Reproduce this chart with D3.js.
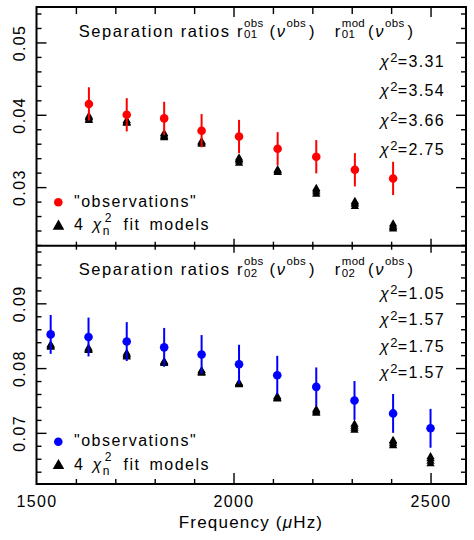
<!DOCTYPE html>
<html>
<head>
<meta charset="utf-8">
<script src="https://cdn.jsdelivr.net/npm/d3@7"></script>
<style>
  body { margin: 0; background: #fff; }
  text { font-family: "Liberation Sans", Arial, sans-serif; fill: #000; }
</style>
</head>
<body>
<div id="chart"></div>
<script>
// frequencies (muHz) of the ratios
const freq01 = [1633, 1729, 1824, 1919, 2014, 2112, 2210, 2308, 2405];
const freq02 = [1536, 1632, 1729, 1824, 1919, 2014, 2111, 2210, 2307, 2405, 2500];

// observed ratios and their errors
const r01Obs = [0.0415, 0.0400, 0.0395, 0.0378, 0.0370, 0.0353, 0.0342, 0.0324, 0.0312];
const r01Err = [0.0023, 0.0023, 0.0023, 0.0023, 0.0023, 0.0023, 0.0023, 0.0023, 0.0023];
const r02Obs = [0.0852, 0.0848, 0.0841, 0.0832, 0.0821, 0.0806, 0.0789, 0.0771, 0.0750, 0.0730, 0.0707];
const r02Err = [0.0030, 0.0030, 0.0030, 0.0030, 0.0030, 0.0030, 0.0030, 0.0030, 0.0030, 0.0030, 0.0030];

// the 4 best fit models
const r01Mod1 = [0.0398, 0.0392, 0.0374, 0.0363, 0.0340, 0.0324, 0.0298, 0.0280, 0.0249];
const r01Mod2 = [0.0396, 0.0390, 0.0372, 0.0362, 0.0338, 0.0323, 0.0296, 0.0278, 0.0246];
const r01Mod3 = [0.0394, 0.0389, 0.0370, 0.0361, 0.0336, 0.0321, 0.0293, 0.0276, 0.0244];
const r01Mod4 = [0.0392, 0.0388, 0.0368, 0.0359, 0.0333, 0.0320, 0.0290, 0.0273, 0.0242];
const r02Mod1 = [0.0836, 0.0831, 0.0823, 0.0810, 0.0796, 0.0777, 0.0756, 0.0736, 0.0713, 0.0688, 0.0663];
const r02Mod2 = [0.0835, 0.0829, 0.0821, 0.0809, 0.0794, 0.0776, 0.0754, 0.0734, 0.0710, 0.0686, 0.0660];
const r02Mod3 = [0.0833, 0.0828, 0.0819, 0.0808, 0.0793, 0.0775, 0.0753, 0.0732, 0.0707, 0.0683, 0.0656];
const r02Mod4 = [0.0832, 0.0827, 0.0817, 0.0807, 0.0792, 0.0774, 0.0752, 0.0730, 0.0704, 0.0680, 0.0652];

const chi01 = ["3.31", "3.54", "3.66", "2.75"];
const chi02 = ["1.05", "1.57", "1.75", "1.57"];

const xMajor = [1500, 2000, 2500];
const xMinor = [1600, 1700, 1800, 1900, 2100, 2200, 2300, 2400];
const y01Major = [0.03, 0.04, 0.05];
const y02Major = [0.07, 0.08, 0.09];

const W = 474, H = 540;
const L = 36.5, R = 466, T = 7, MID = 245.7, B = 484;
const FONT = 16;

const svg = d3.select("#chart").append("svg").attr("width", W).attr("height", H);

const x = d3.scaleLinear().domain([1500, 2590]).range([L, R]);
const y01 = d3.scaleLinear().domain([0.0219, 0.0549]).range([MID, T]);
const y02 = d3.scaleLinear().domain([0.0621, 0.0989]).range([B, MID]);

// minor y ticks every 0.002 inside the domain
function minorTicks(scale) {
  const [lo, hi] = scale.domain();
  return d3.range(Math.ceil(lo / 0.002), Math.floor(hi / 0.002) + 1)
    .filter(i => i % 5 !== 0)
    .map(i => i * 0.002);
}

function noDomain(g) { g.select(".domain").remove(); g.selectAll("line").attr("stroke-width", 1.4); }

// y axes (left with labels, right only ticks), ticks pointing inward
function drawYAxes(scale, major) {
  const minor = minorTicks(scale);
  svg.append("g").attr("transform", `translate(${L},0)`)
    .call(d3.axisLeft(scale).tickValues(minor).tickSize(-5).tickFormat("")).call(noDomain);
  const left = svg.append("g").attr("transform", `translate(${L},0)`)
    .call(d3.axisLeft(scale).tickValues(major).tickSize(-10).tickFormat(d3.format(".2f"))).call(noDomain);
  left.selectAll("text")
    .attr("x", null).attr("dy", null)
    .attr("text-anchor", "middle")
    .attr("font-size", FONT)
    .attr("font-family", null)
    .attr("letter-spacing", 1.4)
    .attr("transform", `translate(${25 - L},0) rotate(-90)`);
  svg.append("g").attr("transform", `translate(${R},0)`)
    .call(d3.axisRight(scale).tickValues(minor).tickSize(-5).tickFormat("")).call(noDomain);
  svg.append("g").attr("transform", `translate(${R},0)`)
    .call(d3.axisRight(scale).tickValues(major).tickSize(-10).tickFormat("")).call(noDomain);
}

drawYAxes(y01, y01Major);
drawYAxes(y02, y02Major);

// x ticks: top frame, shared middle line, bottom frame
const xMaj = xMajor.filter(d => d > 1500);
svg.append("g").attr("transform", `translate(0,${T})`)
  .call(d3.axisTop(x).tickValues(xMinor).tickSize(-7).tickFormat("")).call(noDomain);
svg.append("g").attr("transform", `translate(0,${T})`)
  .call(d3.axisTop(x).tickValues(xMaj).tickSize(-10).tickFormat("")).call(noDomain);
[-1, 1].forEach(s => {
  svg.append("g").attr("transform", `translate(0,${MID})`)
    .call(d3.axisBottom(x).tickValues(xMinor).tickSize(4 * s).tickFormat("")).call(noDomain);
  svg.append("g").attr("transform", `translate(0,${MID})`)
    .call(d3.axisBottom(x).tickValues(xMaj).tickSize(7 * s).tickFormat("")).call(noDomain);
});
svg.append("g").attr("transform", `translate(0,${B})`)
  .call(d3.axisBottom(x).tickValues(xMinor).tickSize(-5).tickFormat("")).call(noDomain);
const xAx = svg.append("g").attr("transform", `translate(0,${B})`)
  .call(d3.axisBottom(x).tickValues(xMajor).tickSize(-11).tickFormat(d3.format("d"))).call(noDomain);
xAx.selectAll("text").attr("y", 23).attr("dy", null).attr("font-size", FONT).attr("font-family", null)
  .attr("letter-spacing", 1.4);
xAx.selectAll("line").filter(d => d === 1500).remove();

// frame
svg.append("rect").attr("x", L).attr("y", T).attr("width", R - L).attr("height", B - T)
  .attr("fill", "none").attr("stroke", "#000").attr("stroke-width", 2);
svg.append("line").attr("x1", L).attr("x2", R).attr("y1", MID).attr("y2", MID)
  .attr("stroke", "#000").attr("stroke-width", 2);

const tri = d3.symbol().type(d3.symbolTriangle).size(30);

function drawPanel(freqs, obs, err, models, y, color) {
  const g = svg.append("g");
  models.forEach(m => {
    g.selectAll(null).data(m).join("path")
      .attr("d", tri)
      .attr("transform", (d, i) => `translate(${x(freqs[i])},${y(d)})`)
      .attr("fill", "#000");
  });
  g.selectAll(null).data(obs).join("line")
    .attr("x1", (d, i) => x(freqs[i])).attr("x2", (d, i) => x(freqs[i]))
    .attr("y1", (d, i) => y(d - err[i])).attr("y2", (d, i) => y(d + err[i]))
    .attr("stroke", color).attr("stroke-width", 2);
  g.selectAll(null).data(obs).join("circle")
    .attr("cx", (d, i) => x(freqs[i])).attr("cy", d => y(d))
    .attr("r", 4.3).attr("fill", color);
}

drawPanel(freq01, r01Obs, r01Err, [r01Mod1, r01Mod2, r01Mod3, r01Mod4], y01, "#ff0000");
drawPanel(freq02, r02Obs, r02Err, [r02Mod1, r02Mod2, r02Mod3, r02Mod4], y02, "#0000ff");

// one text element, pieces with super/subscripts placed by measuring
function rich(x0, y0, parts, o) {
  const t = svg.append("text").attr("font-size", o.fs).attr("letter-spacing", o.ls)
    .attr("word-spacing", o.ws || 0).style("white-space", "pre");
  let cx = x0;
  parts.forEach(p => {
    const m = t.append("tspan").attr("x", cx).attr("y", y0)
      .attr("font-style", p.it ? "italic" : null).text(p.t);
    const w = m.node().getComputedTextLength();
    let extra = 0;
    if (p.sub) {
      const s = t.append("tspan").attr("x", cx + w).attr("y", y0 + o.subDown)
        .attr("font-size", o.small).attr("letter-spacing", 0.3).attr("font-style", "normal").text(p.sub);
      extra = Math.max(extra, s.node().getComputedTextLength());
    }
    if (p.sup) {
      const s = t.append("tspan").attr("x", cx + w + (p.supShift || 0)).attr("y", y0 - o.supUp)
        .attr("font-size", o.small).attr("letter-spacing", 0.3).attr("font-style", "normal").text(p.sup);
      extra = Math.max(extra, s.node().getComputedTextLength() + (p.supShift || 0));
    }
    cx += w + extra + (p.gap || 0);
  });
  return t;
}

function title(base, sub) {
  const o = { fs: 16.5, ls: 1.6, small: 11.5, supUp: 10, subDown: 1.5 };
  rich(78.7, base, [{ t: "Separation ratios" }], o);
  rich(237, base, [{ t: "r", sup: "obs", sub: sub, gap: 6 }, { t: "(" },
    { t: "ν", it: true, sup: "obs", gap: 3 }, { t: ")" }], o);
  rich(334.7, base, [{ t: "r", sup: "mod", sub: sub, gap: 3 }, { t: "(" },
    { t: "ν", it: true, sup: "obs", gap: 3 }, { t: ")" }], o);
}
title(36.7, "01");
title(275, "02");

function chiLabels(vals, base, step) {
  const o = { fs: 16, ls: 1.4, small: 13, supUp: 5, subDown: 0 };
  vals.forEach((v, i) => rich(380, base + i * step, [{ t: "χ", it: true, sup: "2" }, { t: "=" + v }], o));
}
chiLabels(chi01, 66.7, 29.4);
chiLabels(chi02, 299, 26.3);

const triBig = d3.symbol().type(d3.symbolTriangle).size(58);

function legend(dotY, color) {
  const o = { fs: 16, ls: 1.5, ws: 3, small: 12, supUp: 8.5, subDown: 5 };
  svg.append("circle").attr("cx", 58.3).attr("cy", dotY).attr("r", 4.3).attr("fill", color);
  rich(74, dotY + 4.5, [{ t: "\"observations\"" }], o);
  svg.append("path").attr("d", triBig).attr("transform", `translate(58.5,${dotY + 24})`).attr("fill", "#000");
  rich(74, dotY + 28, [{ t: "4", gap: 8 }, { t: "χ", it: true, sup: "2", sub: "n", supShift: 2, gap: 3 },
    { t: " fit models" }], o);
}
legend(202.3, "#ff0000");
legend(441.7, "#0000ff");

// x axis title
const xt = svg.append("text").attr("x", 251).attr("y", 528)
  .attr("text-anchor", "middle").attr("font-size", 17).attr("letter-spacing", 1.2);
xt.append("tspan").text("Frequency (");
xt.append("tspan").attr("font-style", "italic").text("μ");
xt.append("tspan").text("Hz)");
</script>
</body>
</html>
